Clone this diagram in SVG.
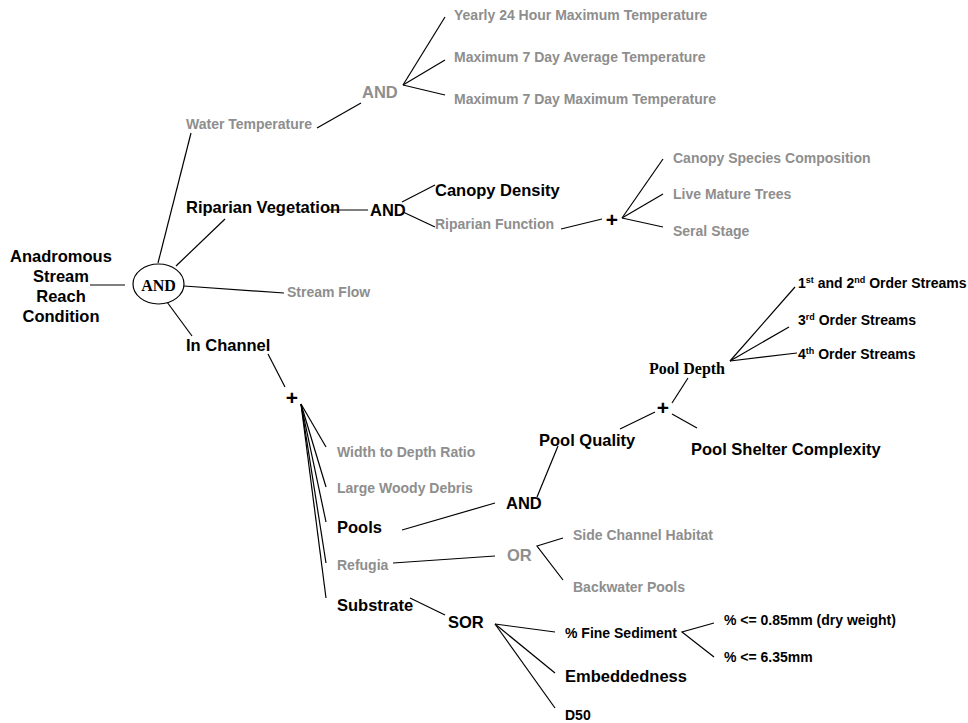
<svg xmlns="http://www.w3.org/2000/svg" width="968" height="723" viewBox="0 0 968 723">
<style>
text{font-family:"Liberation Sans",Arial,sans-serif;font-weight:bold}
.big{font-size:16.5px;fill:#000}
.sm{font-size:14px;fill:#000}
.g{font-size:14px;fill:#8e8e8e}
.gbig{font-size:16.5px;fill:#8e8e8e}
.serif{font-family:"Liberation Serif","Times New Roman",serif;font-size:16px;fill:#000}
.plus{font-size:21px;fill:#000;text-anchor:middle}
.sup{font-size:9px}
#connectors line,#connectors polyline{stroke:#000;stroke-width:1.2;fill:none}
</style>
<rect width="968" height="723" fill="#fff"/>
<g id="connectors">
<line x1="90" y1="285" x2="125" y2="285"/>
<line x1="158" y1="263" x2="191" y2="133"/>
<line x1="176" y1="266" x2="225" y2="219"/>
<line x1="184" y1="286" x2="284" y2="293"/>
<line x1="167" y1="302" x2="192" y2="336"/>
<line x1="317" y1="128" x2="361" y2="103"/>
<line x1="403" y1="85" x2="445" y2="17"/>
<line x1="403" y1="85" x2="445" y2="60"/>
<line x1="403" y1="85" x2="445" y2="95"/>
<line x1="328" y1="210" x2="368" y2="210"/>
<line x1="402" y1="202" x2="435" y2="185"/>
<line x1="403" y1="212" x2="435" y2="227"/>
<line x1="561" y1="229" x2="602" y2="219"/>
<line x1="622" y1="218" x2="663" y2="159"/>
<line x1="622" y1="218" x2="663" y2="194"/>
<line x1="622" y1="218" x2="663" y2="227"/>
<line x1="268" y1="354" x2="285" y2="387"/>
<line x1="301" y1="404" x2="326" y2="447"/>
<line x1="301" y1="404" x2="326" y2="487"/>
<line x1="301" y1="404" x2="326" y2="522"/>
<line x1="301" y1="404" x2="326" y2="563"/>
<line x1="301" y1="404" x2="326" y2="598"/>
<line x1="402" y1="530" x2="495" y2="503"/>
<line x1="537" y1="497" x2="558" y2="446"/>
<line x1="620" y1="429" x2="655" y2="412"/>
<line x1="672" y1="403" x2="688" y2="378"/>
<line x1="672" y1="414" x2="697" y2="428"/>
<line x1="730" y1="361" x2="795" y2="287"/>
<line x1="730" y1="361" x2="789" y2="327"/>
<line x1="730" y1="361" x2="797" y2="353"/>
<line x1="393" y1="563" x2="495" y2="556"/>
<polyline points="563,538 537,546 563,580"/>
<line x1="410" y1="598" x2="445" y2="615"/>
<line x1="495" y1="624" x2="555" y2="632"/>
<line x1="495" y1="624" x2="555" y2="673"/>
<line x1="495" y1="624" x2="555" y2="708"/>
<polyline points="714,623 682,632 714,657"/>
</g>
<g id="root"><text class="big" text-anchor="middle"><tspan x="61" y="262">Anadromous</tspan><tspan x="61" y="282">Stream</tspan><tspan x="61" y="302">Reach</tspan><tspan x="61" y="322">Condition</tspan></text></g>
<g id="and-root"><ellipse cx="158.5" cy="284" rx="25.5" ry="20" fill="#fff" stroke="#000" stroke-width="1.2"/><text class="serif" x="158.5" y="291" text-anchor="middle">AND</text></g>
<g id="water-temperature"><text class="g" x="186" y="129">Water Temperature</text></g>
<g id="and-temp"><text class="gbig" x="362" y="98">AND</text></g>
<g id="yearly"><text class="g" x="454" y="20">Yearly 24 Hour Maximum Temperature</text></g>
<g id="max7avg"><text class="g" x="454" y="62">Maximum 7 Day Average Temperature</text></g>
<g id="max7max"><text class="g" x="454" y="104">Maximum 7 Day Maximum Temperature</text></g>
<g id="riparian-vegetation"><text class="big" x="186" y="213">Riparian Vegetation</text></g>
<g id="and-riparian"><text class="big" x="370" y="216">AND</text></g>
<g id="canopy-density"><text class="big" x="435" y="196">Canopy Density</text></g>
<g id="riparian-function"><text class="g" x="435" y="229">Riparian Function</text></g>
<g id="plus-riparian"><text class="plus" x="612" y="227">+</text></g>
<g id="canopy-species"><text class="g" x="673" y="163">Canopy Species Composition</text></g>
<g id="live-mature"><text class="g" x="673" y="199">Live Mature Trees</text></g>
<g id="seral-stage"><text class="g" x="673" y="236">Seral Stage</text></g>
<g id="stream-flow"><text class="g" x="287" y="297">Stream Flow</text></g>
<g id="in-channel"><text class="big" x="186" y="351">In Channel</text></g>
<g id="plus-channel"><text class="plus" x="292" y="405">+</text></g>
<g id="width-depth"><text class="g" x="337" y="457">Width to Depth Ratio</text></g>
<g id="large-woody"><text class="g" x="337" y="493">Large Woody Debris</text></g>
<g id="pools"><text class="big" x="337" y="533">Pools</text></g>
<g id="refugia"><text class="g" x="337" y="570">Refugia</text></g>
<g id="substrate"><text class="big" x="337" y="611">Substrate</text></g>
<g id="and-pools"><text class="big" x="506" y="509">AND</text></g>
<g id="pool-quality"><text class="big" x="539" y="446">Pool Quality</text></g>
<g id="plus-pool"><text class="plus" x="663" y="415">+</text></g>
<g id="pool-depth"><text class="serif" x="649" y="374">Pool Depth</text></g>
<g id="pool-shelter"><text class="big" x="691" y="455">Pool Shelter Complexity</text></g>
<g id="order12"><text class="sm" x="798" y="288">1<tspan class="sup" dy="-5">st</tspan><tspan dy="5"> and 2</tspan><tspan class="sup" dy="-5">nd</tspan><tspan dy="5"> Order Streams</tspan></text></g>
<g id="order3"><text class="sm" x="798" y="325">3<tspan class="sup" dy="-5">rd</tspan><tspan dy="5"> Order Streams</tspan></text></g>
<g id="order4"><text class="sm" x="798" y="359">4<tspan class="sup" dy="-5">th</tspan><tspan dy="5"> Order Streams</tspan></text></g>
<g id="or"><text class="gbig" x="507" y="561">OR</text></g>
<g id="side-channel"><text class="g" x="573" y="540">Side Channel Habitat</text></g>
<g id="backwater"><text class="g" x="573" y="592">Backwater Pools</text></g>
<g id="sor"><text class="big" x="448" y="628">SOR</text></g>
<g id="fine-sediment"><text class="sm" x="565" y="638">% Fine Sediment</text></g>
<g id="fs-085"><text class="sm" x="724" y="625">% &lt;= 0.85mm (dry weight)</text></g>
<g id="fs-635"><text class="sm" x="724" y="662">% &lt;= 6.35mm</text></g>
<g id="embeddedness"><text class="big" x="565" y="682">Embeddedness</text></g>
<g id="d50"><text class="sm" x="565" y="720">D50</text></g>
</svg>
